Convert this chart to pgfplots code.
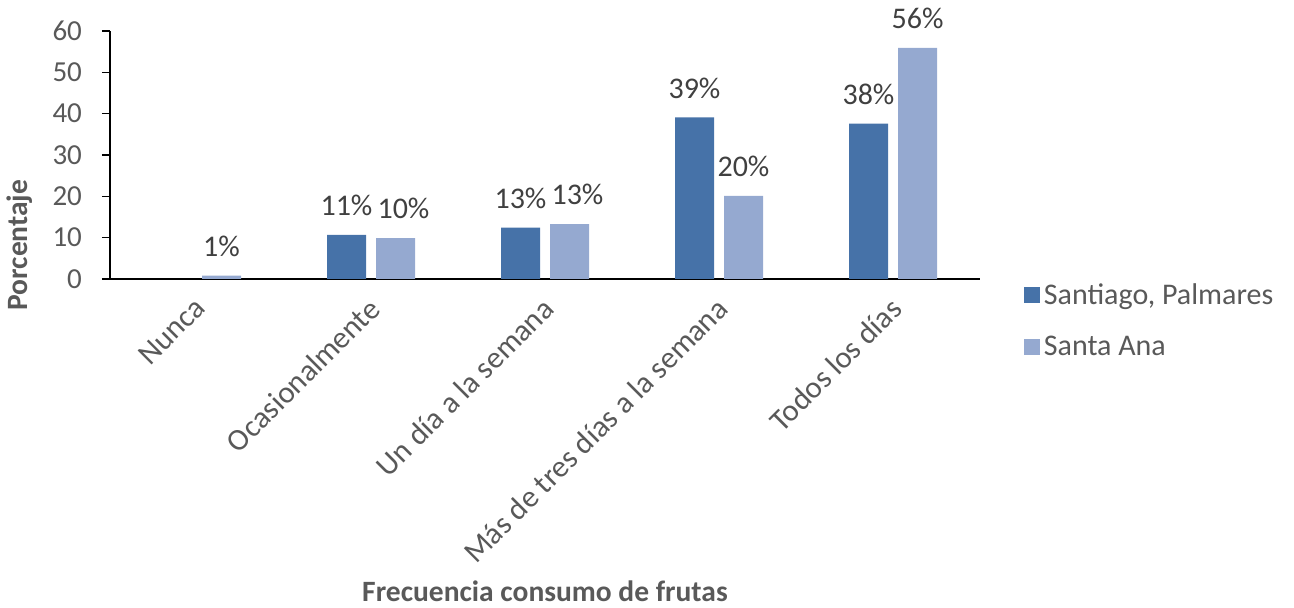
\documentclass[border=0pt]{standalone}
\usepackage{pgfplots}
\pgfplotsset{compat=1.18}
\usepackage{fontspec}
\setmainfont{Carlito}
\definecolor{dark}{RGB}{70,114,168}
\definecolor{light}{RGB}{149,169,208}
\definecolor{txt}{RGB}{89,89,89}
\definecolor{lbl}{RGB}{64,64,64}
\begin{document}
\begin{tikzpicture}
\path[use as bounding box] (-55pt,-164.5pt) rectangle (592pt,139.5pt);
\begin{axis}[
 at={(0,0)}, anchor=south west,
 scale only axis, width=435pt, height=124pt,
 xmin=-0.5, xmax=4.5, ymin=0, ymax=60,
 ytick={0,10,...,60},
 xtick={0,1,2,3,4},
 xticklabels={Nunca, Ocasionalmente, Un día a la semana, Más de tres días a la semana, Todos los días},
 axis x line*=bottom, axis y line*=left,
 axis line style={black, line width=0.7pt},
 xtick style={draw=none},
 ytick style={black, line width=0.7pt},
 tick align=outside, major tick length=4pt,
 /pgf/number format/assume math mode=true,
 y tick label style={font=\fontsize{14.5}{17}\selectfont, text=txt, xshift=-6.5pt},
 x tick label style={rotate=45, anchor=north east, font=\fontsize{15.4}{18}\selectfont, text=txt, inner sep=1pt, xshift=-3.5pt, yshift=-0.5pt},
 ybar, bar width=19.5pt,
 nodes near coords={\pgfplotspointmeta},
 point meta=explicit symbolic,
 nodes near coords style={font=\fontsize{15}{18}\selectfont, text=lbl, anchor=south, yshift=6pt},
 xlabel={Frecuencia consumo de frutas},
 ylabel={Porcentaje},
 xlabel style={at={(axis description cs:0.5,0)}, anchor=center, yshift=-156pt, font=\fontsize{14.75}{17}\selectfont\bfseries, text=txt},
 ylabel style={at={(axis description cs:-0.1034,0.137)}, anchor=center, font=\fontsize{14.75}{17}\selectfont\bfseries, text=txt},
 legend style={at={(axis description cs:1.05,0.0)}, anchor=north west, draw=none, fill=none, font=\fontsize{15}{18}\selectfont, text=txt, row sep=10.5pt, inner sep=0pt},
 legend cell align=left,
 legend image code/.code={\fill[#1, draw=none] (0pt,-4pt) rectangle (8pt,4pt);},
 clip=false,
]
\addplot[fill=dark, draw=none, bar shift=-12.25pt] coordinates {
 (1,10.7) [11\%] (2,12.4) [13\%] (3,39.1) [39\%] (4,37.6) [38\%]};
\addplot[fill=light, draw=none, bar shift=12.25pt,
 coordinate style/.condition={x>0.5 && x<2.5}{xshift=4pt}] coordinates {
 (0,0.8) [1\%] (1,9.9) [10\%] (2,13.3) [13\%] (3,20.1) [20\%] (4,55.9) [56\%]};
\legend{{Santiago, Palmares}, Santa Ana}
\end{axis}
\end{tikzpicture}
\end{document}
